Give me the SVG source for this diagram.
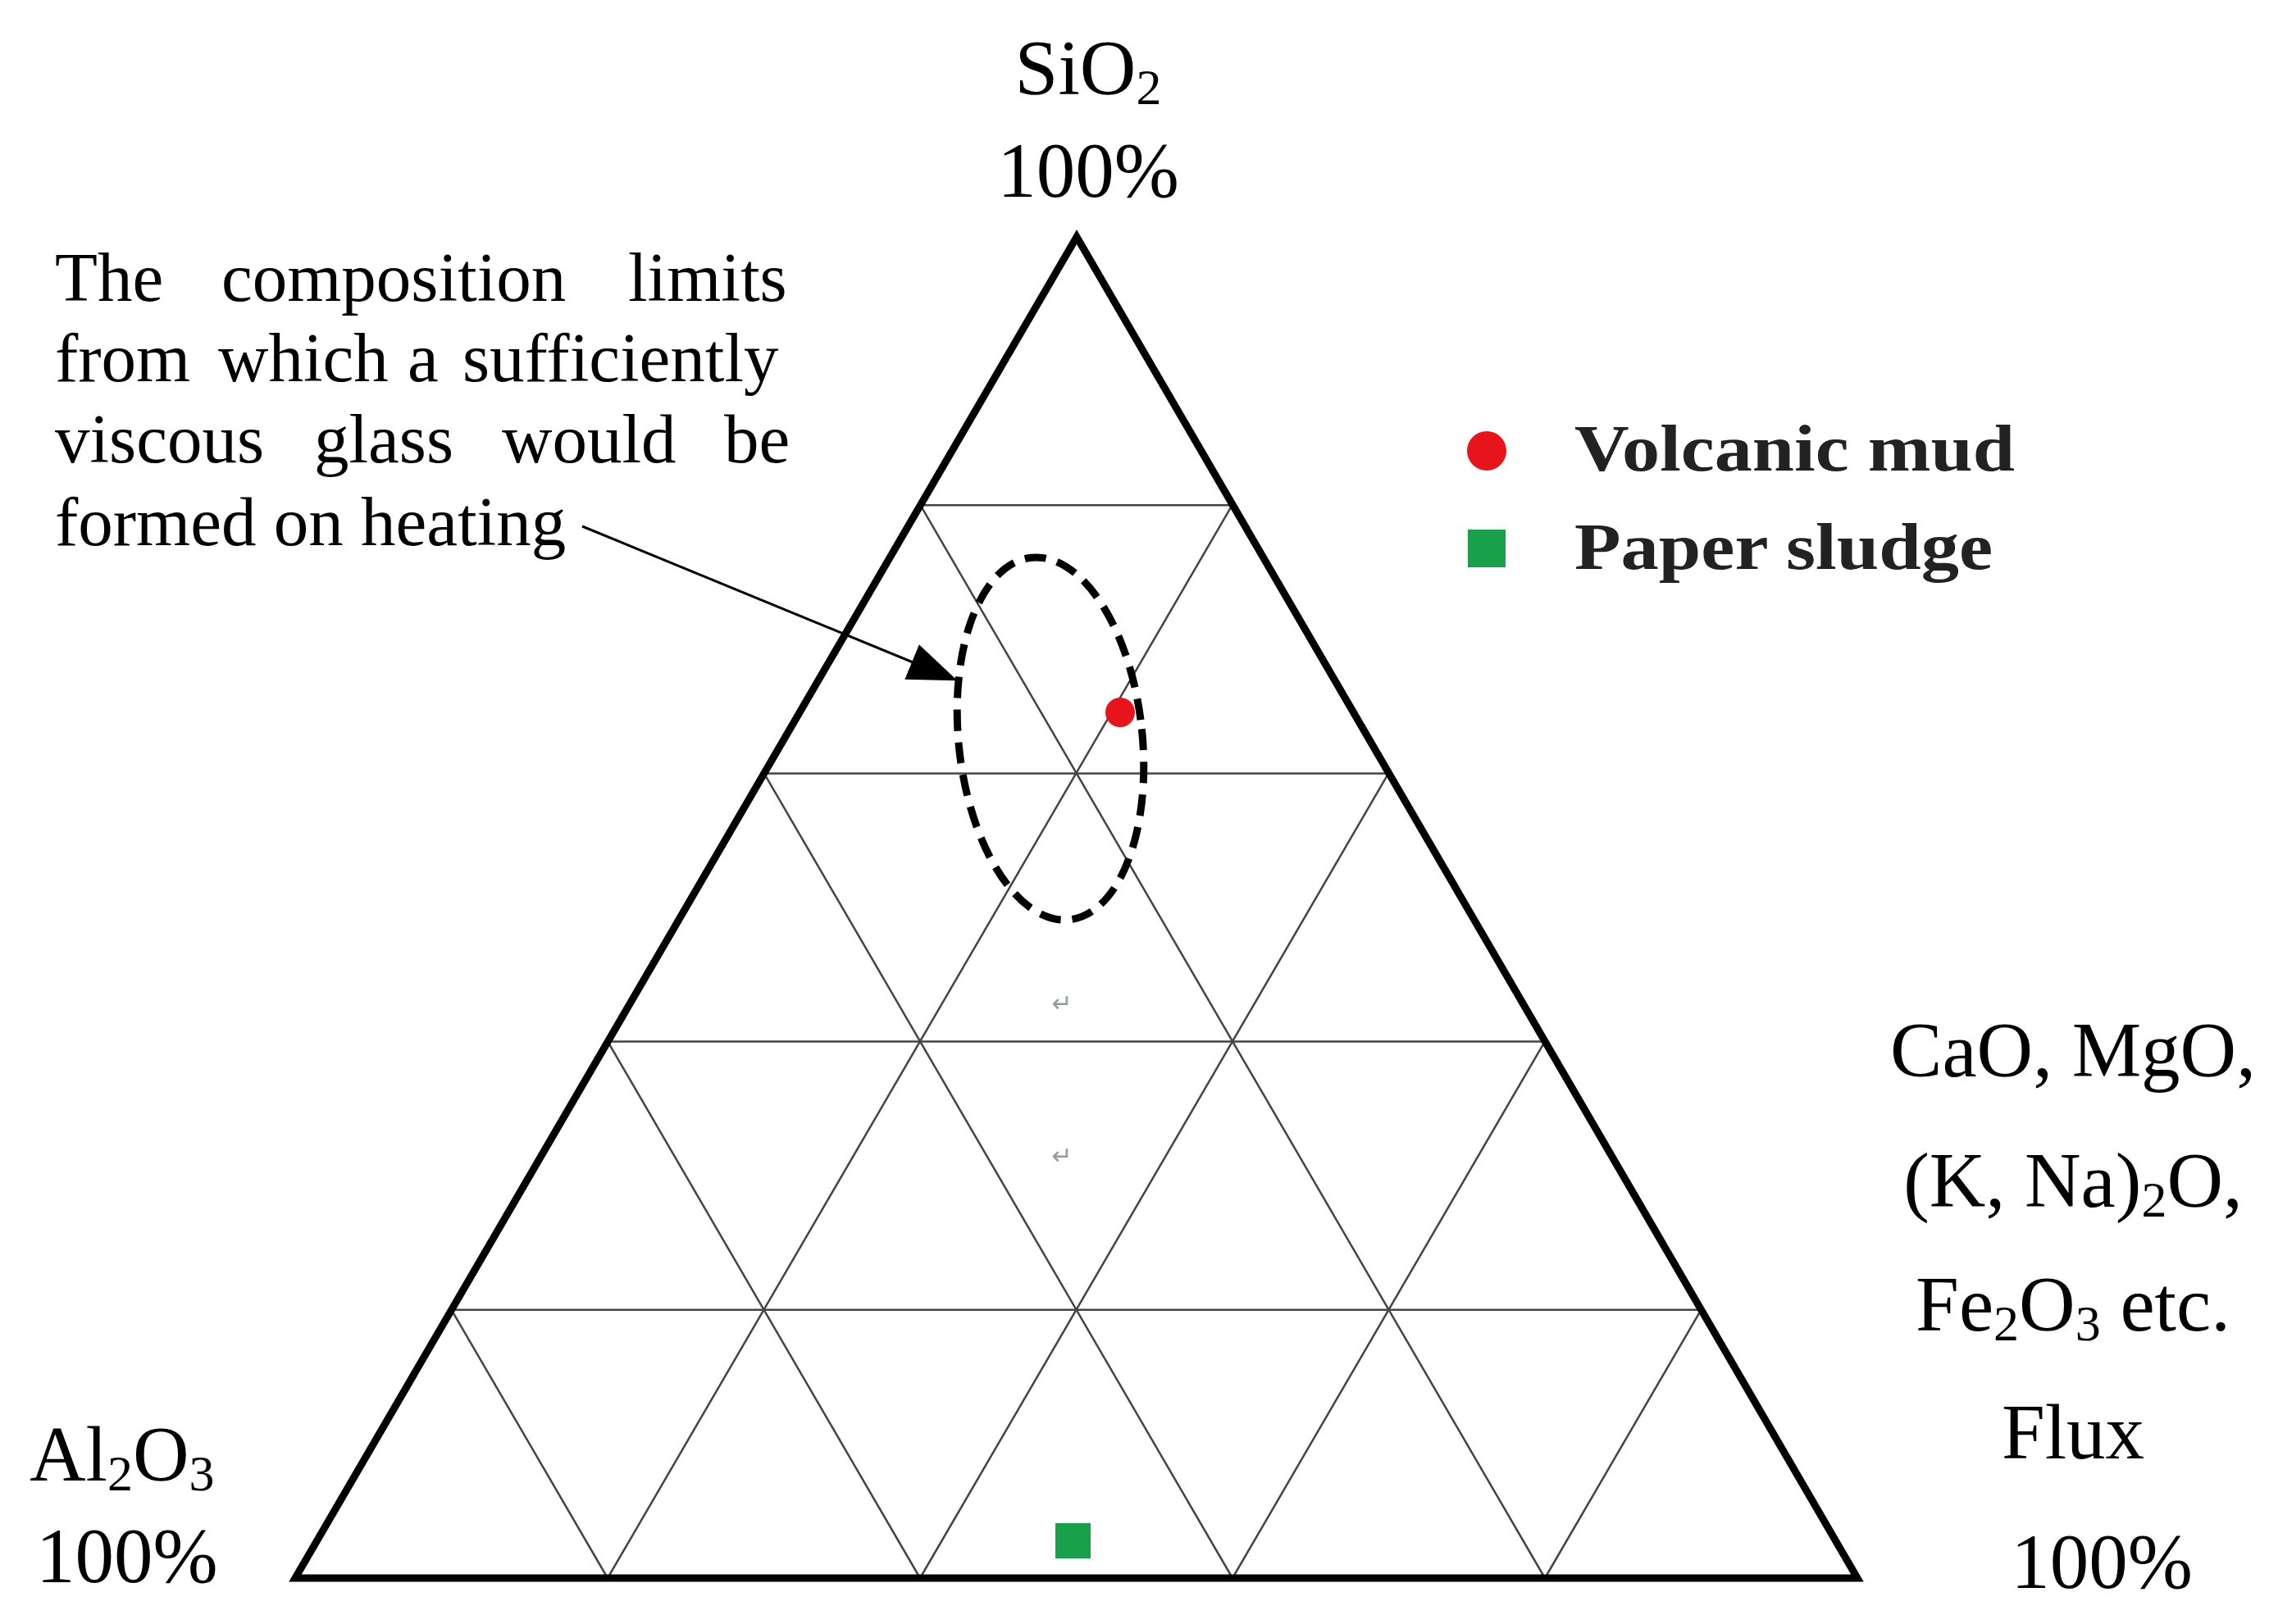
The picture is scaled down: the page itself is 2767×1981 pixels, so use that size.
<svg xmlns="http://www.w3.org/2000/svg" width="2767" height="1981" viewBox="0 0 2767 1981">
<style>
.t{font-family:"Liberation Serif",serif;font-size:95px;fill:#000}
.p{font-family:"Liberation Serif",serif;font-size:85px;fill:#000}
.g{stroke:#444;stroke-width:2.5;fill:none}
.b{font-family:"Liberation Serif",serif;font-size:80px;font-weight:bold;fill:#222}
</style>
<defs>
<marker id="ah2" viewBox="0 0 10 10" refX="9" refY="5" markerWidth="60" markerHeight="46" markerUnits="userSpaceOnUse" orient="auto" preserveAspectRatio="none"><path d="M0,0 L10,5 L0,10 z" fill="#000"/></marker></defs>
<rect width="2767" height="1981" fill="#fff"/>
<g id="grid">
<path class="g" d="M550.6,1597.8H2074.4M741.2,1270.6H1883.8M931.8,943.4H1693.2M1122.4,616.2H1502.6"/>
<path class="g" d="M741,1925L1502.6,616.2M1122,1925L1693.2,943.4M1503,1925L1883.8,1270.6M1884,1925L2074.4,1597.8"/>
<path class="g" d="M741,1925L550.6,1597.8M1122,1925L741.2,1270.6M1503,1925L931.8,943.4M1884,1925L1122.4,616.2"/>
</g>
<g id="triangle"><path d="M1313,289L2265,1925L360,1925Z" fill="none" stroke="#000" stroke-width="9"/></g>
<g id="region"><ellipse cx="1281" cy="901" rx="112" ry="222" transform="rotate(-6 1281 901)" fill="none" stroke="#000" stroke-width="9" stroke-dasharray="26,14"/></g>
<g id="points">
<circle cx="1366" cy="869" r="18" fill="#e8141c"/>
<rect x="1287" y="1858" width="43" height="43" fill="#18a04a"/>
</g>
<g id="legend">
<circle cx="1813" cy="550" r="24" fill="#e8141c"/><text class="b" x="1920" y="574" textLength="537" lengthAdjust="spacingAndGlyphs">Volcanic mud</text>
<rect x="1790" y="646" width="46" height="46" fill="#18a04a"/><text class="b" x="1920" y="694" textLength="510" lengthAdjust="spacingAndGlyphs">Paper sludge</text>
</g>
<g id="connectors"><line x1="710" y1="642" x2="1162" y2="828" stroke="#000" stroke-width="3" marker-end="url(#ah2)"/></g>
<g id="labels">
<text class="t" x="1327" y="115" text-anchor="middle">SiO<tspan font-size="62" dy="12">2</tspan></text>
<text class="t" x="1327" y="240" text-anchor="middle">100%</text>
<text class="p" y="367"><tspan x="67">The</tspan><tspan x="270">composition</tspan><tspan x="766">limits</tspan></text>
<text class="p" y="465"><tspan x="67">from</tspan><tspan x="266">which</tspan><tspan x="497">a</tspan><tspan x="564">sufficiently</tspan></text>
<text class="p" y="564"><tspan x="67">viscous</tspan><tspan x="383">glass</tspan><tspan x="612">would</tspan><tspan x="883">be</tspan></text>
<text class="p" x="67" y="665">formed on heating</text>
<text class="t" x="36" y="1806">Al<tspan font-size="62" dy="12">2</tspan><tspan dy="-12">O</tspan><tspan font-size="62" dy="12">3</tspan></text>
<text class="t" x="44" y="1930">100%</text>
<text class="t" x="2528" y="1313" text-anchor="middle">CaO, MgO,</text>
<text class="t" x="2528" y="1472" text-anchor="middle">(K, Na)<tspan font-size="62" dy="12">2</tspan><tspan dy="-12">O,</tspan></text>
<text class="t" x="2528" y="1623" text-anchor="middle">Fe<tspan font-size="62" dy="12">2</tspan><tspan dy="-12">O</tspan><tspan font-size="62" dy="12">3</tspan><tspan dy="-12"> etc.</tspan></text>
<text class="t" x="2528" y="1779" text-anchor="middle">Flux</text>
<text class="t" x="2563" y="1937" text-anchor="middle">100%</text>
<text x="1295" y="1234" font-family="DejaVu Sans,sans-serif" font-size="30" fill="#999" text-anchor="middle">↵</text>
<text x="1295" y="1420" font-family="DejaVu Sans,sans-serif" font-size="30" fill="#999" text-anchor="middle">↵</text>
</g>
</svg>
